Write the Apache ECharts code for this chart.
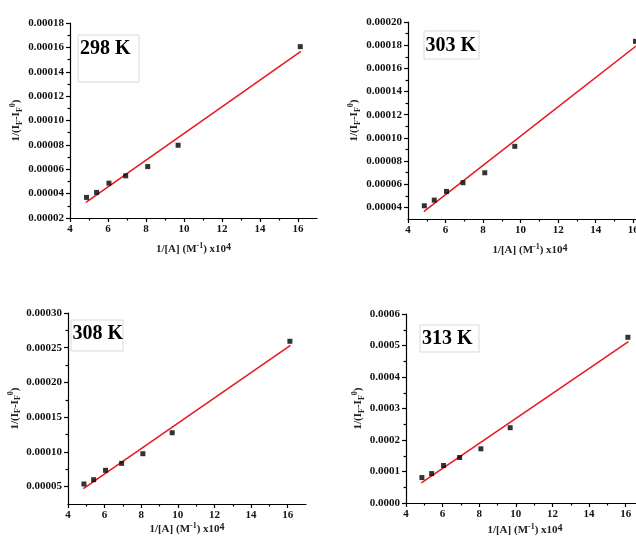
<!DOCTYPE html>
<html>
<head>
<meta charset="utf-8">
<style>
html, body { margin: 0; padding: 0; background: #fff; }
#main { width: 636px; height: 544px; }
</style>
<script src="https://cdn.jsdelivr.net/npm/echarts@6/dist/echarts.min.js"></script>
</head>
<body>
<div id="main"></div>
<script>
// 1/[A] (x10^4), same concentrations at every temperature
const xVals = [4.87, 5.4, 6.05, 6.93, 8.09, 9.69, 16.12];

// 1/(IF - IF0) at each temperature
const y298 = [0.0000369, 0.000041, 0.0000486, 0.0000546, 0.0000622, 0.0000797, 0.0001606];
const y303 = [0.0000414, 0.0000463, 0.0000538, 0.0000613, 0.0000699, 0.0000927, 0.0001833];
const y308 = [0.0000538, 0.00006, 0.0000735, 0.0000835, 0.0000974, 0.0001276, 0.0002593];
const y313 = [0.0000807, 0.0000934, 0.000119, 0.0001444, 0.000172, 0.000239, 0.000526];

// linear fit end points [x, y]
const fit298 = [[4.84, 0.0000328], [16.15, 0.0001568]];
const fit303 = [[4.84, 0.0000363], [16.15, 0.0001793]];
const fit308 = [[4.84, 0.0000471], [16.15, 0.0002535]];
const fit313 = [[4.84, 0.0000637], [16.15, 0.000512]];

// axis ticks
const xTicks = [4, 6, 8, 10, 12, 14, 16];
const xMinor = [5, 7, 9, 11, 13, 15];
const yTicks298 = [0.00002, 0.00004, 0.00006, 0.00008, 0.0001, 0.00012, 0.00014, 0.00016, 0.00018];
const yMinor298 = [0.00003, 0.00005, 0.00007, 0.00009, 0.00011, 0.00013, 0.00015, 0.00017];
const yTicks303 = [0.00004, 0.00006, 0.00008, 0.0001, 0.00012, 0.00014, 0.00016, 0.00018, 0.0002];
const yMinor303 = [0.00005, 0.00007, 0.00009, 0.00011, 0.00013, 0.00015, 0.00017, 0.00019];
const yTicks308 = [0.00005, 0.0001, 0.00015, 0.0002, 0.00025, 0.0003];
const yMinor308 = [0.000075, 0.000125, 0.000175, 0.000225, 0.000275];
const yTicks313 = [0, 0.0001, 0.0002, 0.0003, 0.0004, 0.0005, 0.0006];
const yMinor313 = [0.00005, 0.00015, 0.00025, 0.00035, 0.00045, 0.00055];

const font = 'Liberation Serif';

const panels = [
  { label: '298 K', ys: y298, fit: fit298, yMin: 0.00002, yMax: 0.00018, yTicks: yTicks298, yMinor: yMinor298, dec: 5,
    grid: { left: 70, top: 23, width: 247, height: 195 }, yGap: 46, xGap: 24, box: [78, 35, 61, 47], text: [80, 49] },
  { label: '303 K', ys: y303, fit: fit303, yMin: 0.00003, yMax: 0.0002, yTicks: yTicks303, yMinor: yMinor303, dec: 5,
    grid: { left: 408, top: 22, width: 244, height: 197 }, yGap: 46, xGap: 24, box: [424, 31, 55, 28], text: [425.5, 46] },
  { label: '308 K', ys: y308, fit: fit308, yMin: 0.000025, yMax: 0.0003, yTicks: yTicks308, yMinor: yMinor308, dec: 5,
    grid: { left: 68, top: 313, width: 238, height: 191 }, yGap: 44, xGap: 18, box: [71, 320, 52, 31], text: [72.5, 334] },
  { label: '313 K', ys: y313, fit: fit313, yMin: 0, yMax: 0.0006, yTicks: yTicks313, yMinor: yMinor313, dec: 4,
    grid: { left: 406, top: 314, width: 238, height: 189 }, yGap: 39, xGap: 20, box: [420, 325, 59, 27], text: [422, 339] }
];

const nameStyle = {
  fontFamily: font, fontWeight: 'bold', fontSize: 11, color: '#222', lineHeight: 15,
  rich: {
    n: { fontFamily: font, fontWeight: 'bold', fontSize: 11, color: '#222', lineHeight: 15 },
    sub: { fontFamily: font, fontWeight: 'bold', fontSize: 8, color: '#222', lineHeight: 8, verticalAlign: 'bottom' },
    sup: { fontFamily: font, fontWeight: 'bold', fontSize: 8, color: '#222', lineHeight: 8, verticalAlign: 'top' },
    sup4: { fontFamily: font, fontWeight: 'bold', fontSize: 10, color: '#222', lineHeight: 9, verticalAlign: 'top' }
  }
};
const labelStyle = { fontFamily: font, fontWeight: 'bold', fontSize: 11, color: '#111' };
const lineStyle = { color: '#000', width: 1.2 };

let grids = [], xAxes = [], yAxes = [], series = [], graphics = [];

panels.forEach((p, i) => {
  grids.push(Object.assign({ containLabel: false, outerBoundsMode: 'none' }, p.grid));
  // main axes
  xAxes.push({
    type: 'value', gridIndex: i, min: 4, max: 17, position: 'bottom',
    name: '1/[A] (M{sup|-1}) x10{sup4|4}', nameLocation: 'middle', nameGap: p.xGap, nameTextStyle: nameStyle,
    axisLine: { show: true, onZero: false, lineStyle: lineStyle },
    axisTick: { show: true, inside: false, length: 4, customValues: xTicks, lineStyle: lineStyle },
    axisLabel: { customValues: xTicks, margin: 6, ...labelStyle },
    splitLine: { show: false }
  });
  yAxes.push({
    type: 'value', gridIndex: i, min: p.yMin, max: p.yMax, position: 'left',
    name: '1/(I{sub|F}-I{sub|F}{sup|0})', nameLocation: 'middle', nameGap: p.yGap, nameTextStyle: nameStyle,
    axisLine: { show: true, onZero: false, lineStyle: lineStyle },
    axisTick: { show: true, inside: false, length: 4, customValues: p.yTicks, lineStyle: lineStyle },
    axisLabel: { customValues: p.yTicks, margin: 6, formatter: v => v.toFixed(p.dec), ...labelStyle },
    splitLine: { show: false }
  });
  // minor tick axes
  xAxes.push({
    type: 'value', gridIndex: i, min: 4, max: 17, position: 'bottom', offset: 0,
    axisLine: { show: false },
    axisTick: { show: true, inside: false, length: 2.5, customValues: xMinor, lineStyle: lineStyle },
    axisLabel: { show: false }, splitLine: { show: false }
  });
  yAxes.push({
    type: 'value', gridIndex: i, min: p.yMin, max: p.yMax, position: 'left', offset: 0,
    axisLine: { show: false },
    axisTick: { show: true, inside: false, length: 2.5, customValues: p.yMinor, lineStyle: lineStyle },
    axisLabel: { show: false }, splitLine: { show: false }
  });
  series.push({
    type: 'line', xAxisIndex: i * 2, yAxisIndex: i * 2, data: p.fit,
    symbol: 'none', silent: true, lineStyle: { color: '#e8171b', width: 1.5 }, z: 3
  });
  series.push({
    type: 'scatter', xAxisIndex: i * 2, yAxisIndex: i * 2,
    data: xVals.map((x, k) => [x, p.ys[k]]),
    symbol: 'rect', symbolSize: 5, itemStyle: { color: '#000' }, z: 4, clip: false
  });
  graphics.push({
    type: 'rect', shape: { x: p.box[0], y: p.box[1], width: p.box[2], height: p.box[3] },
    style: { fill: '#fff', stroke: '#d9d9d9', lineWidth: 1 }, z: 10
  });
  graphics.push({
    type: 'text', x: p.text[0], y: p.text[1],
    style: { text: p.label, font: 'bold 20px "Liberation Serif"', fill: '#000', textAlign: 'left', textVerticalAlign: 'middle' },
    z: 11
  });
});

const chart = echarts.init(document.getElementById('main'), null, { renderer: 'canvas' });
chart.setOption({
  backgroundColor: '#fff',
  animation: false,
  grid: grids,
  xAxis: xAxes,
  yAxis: yAxes,
  series: series,
  graphic: graphics
});
window.onresize = function () {
  chart.resize();
};
</script>
</body>
</html>
